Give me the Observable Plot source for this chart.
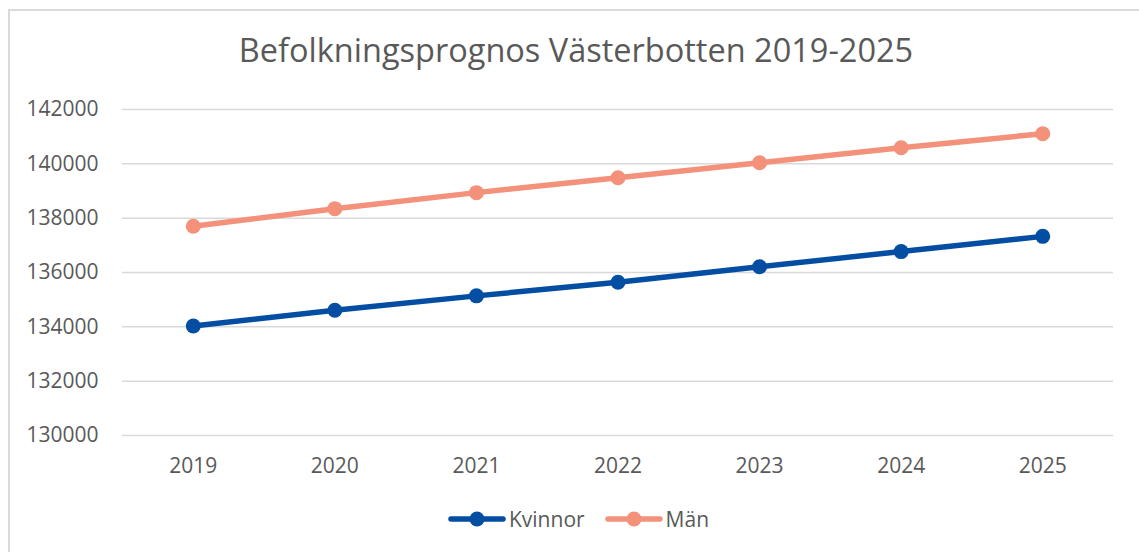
<!DOCTYPE html>
<html>
<head>
<meta charset="utf-8">
<script src="https://cdn.jsdelivr.net/npm/d3@7"></script>
<script src="https://cdn.jsdelivr.net/npm/@observablehq/plot@0.6"></script>
<style>
  html, body { margin: 0; padding: 0; background: #fff; }
  #wrap { position: relative; width: 1139px; height: 552px; overflow: hidden; font-family: "Open Sans", sans-serif; color: #595959; }
  #frame { position: absolute; left: 8px; top: 9px; width: 1200px; height: 600px; border: 2px solid #d9d9d9; box-sizing: border-box; }
  #title { position: absolute; left: 0; width: 1152px; top: 29px; text-align: center; font-size: 32.5px; line-height: 42px; color: #595959; }
  #chart { position: absolute; left: 0; top: 0; }
  #legend { position: absolute; top: 505px; left: 9px; width: 1139px; display: flex; justify-content: center; align-items: center; font-size: 21px; color: #595959; }
  #legend .item { display: flex; align-items: center; margin: 0 10px; }
  #legend svg { margin-right: 3px; }
</style>
</head>
<body>
<div id="wrap">
  <div id="frame"></div>
  <div id="chart"></div>
  <div id="title">Befolkningsprognos Västerbotten 2019-2025</div>
  <div id="legend"></div>
</div>
<script>
const years = ["2019", "2020", "2021", "2022", "2023", "2024", "2025"];
const kvinnor = [134030, 134610, 135140, 135640, 136210, 136770, 137330];
const man = [137700, 138350, 138940, 139490, 140040, 140590, 141110];
const seriesNames = ["Kvinnor", "Män"];
const seriesColors = ["#034EA2", "#F4917A"];
const yTicks = [130000, 132000, 134000, 136000, 138000, 140000, 142000];

const data = [];
years.forEach((y, i) => {
  data.push({year: y, value: kvinnor[i], series: "Kvinnor"});
  data.push({year: y, value: man[i], series: "Män"});
});

const plot = Plot.plot({
  width: 1139,
  height: 480,
  marginLeft: 122,
  marginRight: 26,
  marginTop: 109,
  marginBottom: 45,
  style: {fontFamily: "Open Sans, sans-serif", fontSize: "21px", color: "#595959", background: "transparent"},
  x: {type: "point", domain: years, padding: 0.5, round: false, label: null},
  y: {domain: [130000, 142000], label: null},
  color: {domain: seriesNames, range: seriesColors},
  marks: [
    Plot.ruleY(yTicks, {stroke: "#d9d9d9", strokeWidth: 1.5, strokeOpacity: 1}),
    Plot.axisY({ticks: yTicks, tickSize: 0, tickPadding: 24, tickFormat: d3.format("d"), label: null, fill: "#595959"}),
    Plot.axisX({tickSize: 0, tickPadding: 23, label: null, fill: "#595959"}),
    Plot.line(data, {x: "year", y: "value", stroke: "series", z: "series", strokeWidth: 5.5}),
    Plot.dot(data, {x: "year", y: "value", fill: "series", r: 7.5})
  ]
});
document.getElementById("chart").appendChild(plot);

const legend = document.getElementById("legend");
seriesNames.forEach((name, i) => {
  const item = document.createElement("div");
  item.className = "item";
  item.innerHTML = `<svg width="58" height="16"><line x1="3" y1="8" x2="55" y2="8" stroke="${seriesColors[i]}" stroke-width="5.5" stroke-linecap="round"/><circle cx="29" cy="8" r="7.5" fill="${seriesColors[i]}"/></svg><span>${name}</span>`;
  legend.appendChild(item);
});
</script>
</body>
</html>
